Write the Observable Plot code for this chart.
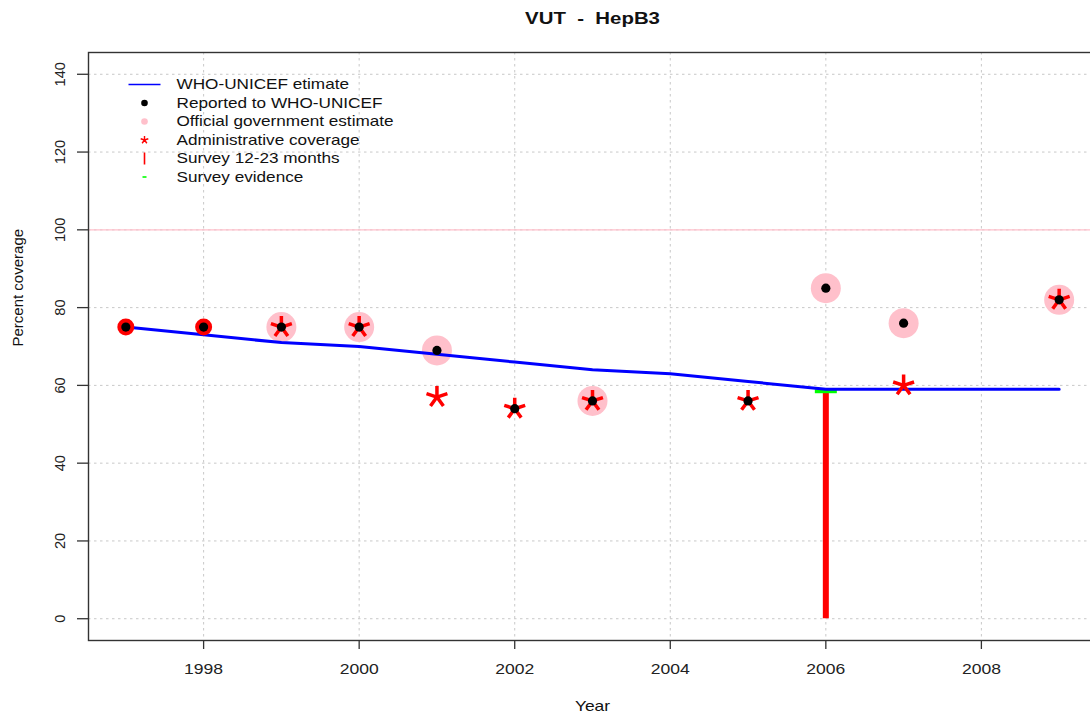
<!DOCTYPE html>
<html><head><meta charset="utf-8">
<script src="https://cdn.jsdelivr.net/npm/d3@7"></script>
<script src="https://cdn.jsdelivr.net/npm/@observablehq/plot@0.6"></script>
<style>
html,body{margin:0;padding:0;overflow:hidden;background:#fff;width:1090px;height:717px}
#chart svg{max-width:none !important}
svg text{white-space:pre}
</style>
</head><body><div id="chart"></div>
<script>
// ---- data ----
const title = "VUT  -  HepB3";
const years = [1997,1998,1999,2000,2001,2002,2003,2004,2005,2006,2007,2008,2009];
const whoUnicef = [75,73,71,70,68,66,64,63,61,59,59,59,59];
const reportedYears = [1997,1998,1999,2000,2001,2002,2003,2005,2006,2007,2009];
const reported = [75,75,75,75,69,54,56,56,85,76,82];
const officialYears = [1999,2000,2001,2003,2006,2007,2009];
const official = [75,75,69,56,85,76,82];
const adminYears = [1997,1998,1999,2000,2001,2002,2003,2005,2007,2009];
const admin = [75,75,75,75,57,54,56,56,60,82];
const adminFilledYears = [1997,1998];
const surveyYears = [2006];
const survey = [59];
const evidenceYears = [2006];
const evidence = [58.5];
const xTicks = [1998,2000,2002,2004,2006,2008];
const yTicks = [0,20,40,60,80,100,120,140];
const legendLabels = ["WHO-UNICEF etimate","Reported to WHO-UNICEF","Official government estimate","Administrative coverage","Survey 12-23 months","Survey evidence"];

// ---- tables ----
const zip = (xs, ys) => xs.map((x, i) => ({year: x, value: ys[i]}));
const whoData = zip(years, whoUnicef);
const repData = zip(reportedYears, reported);
const offData = zip(officialYears, official);
const admAll = zip(adminYears, admin);
const admFilled = admAll.filter(d => adminFilledYears.includes(d.year));
const admStar = admAll.filter(d => !adminFilledYears.includes(d.year));
const surData = zip(surveyYears, survey);
const eviData = zip(evidenceYears, evidence);

const ext = (lo, hi) => [lo - 0.04 * (hi - lo), hi + 0.04 * (hi - lo)];
const xDomain = ext(d3.min(years), d3.max(years));
const yDomain = ext(0, 140);

// ---- custom symbols ----
const star5 = {draw(ctx, size) {
  const r = Math.sqrt(size / Math.PI);
  for (let k = 0; k < 5; k++) {
    const a = k * 2 * Math.PI / 5;
    ctx.moveTo(0, 0);
    ctx.lineTo(r * Math.sin(a), -r * Math.cos(a));
  }
}};
const hline = (half) => ({draw(ctx) { ctx.moveTo(-half, 0); ctx.lineTo(half, 0); }});
const vline = (half) => ({draw(ctx) { ctx.moveTo(0, -half); ctx.lineTo(0, half); }});

const font = "'Liberation Sans', Arial, Helvetica, sans-serif";
const legendRow0 = 32, legendStep = 18.5, legendSym = 56, legendText = 88;
const legendSymbols = [
  {symbol: hline(16), stroke: "blue", strokeWidth: 1.6},
  {symbol: "circle", r: 3.3, fill: "black"},
  {symbol: "circle", r: 3.3, fill: "pink"},
  {symbol: star5, r: 4, stroke: "red", strokeWidth: 1.4},
  {symbol: vline(6), stroke: "red", strokeWidth: 1.6},
  {symbol: hline(2), stroke: "#00ff00", strokeWidth: 1.6}
];
const legendMarks = legendLabels.flatMap((lab, i) => [
  Plot.dot([lab], {frameAnchor: "top-left", dx: legendSym, dy: legendRow0 + i * legendStep, ...legendSymbols[i]}),
  Plot.text([lab], {text: d => d, frameAnchor: "top-left", dx: legendText, dy: legendRow0 + i * legendStep,
    textAnchor: "start", lineAnchor: "middle", fontSize: 14.3, fill: "#111"})
]);

const chart = Plot.plot({
  width: 1100, height: 717,
  marginLeft: 88, marginTop: 52, marginBottom: 77, marginRight: 4,
  x: {domain: xDomain},
  y: {domain: yDomain},
  style: {fontFamily: font, fontSize: "15px", color: "#222", background: "white"},
  marks: [
    Plot.gridX(xTicks, {stroke: "#c8c8c8", strokeOpacity: 1, strokeDasharray: "2.5,3.5", strokeWidth: 1}),
    Plot.gridY(yTicks, {stroke: "#c8c8c8", strokeOpacity: 1, strokeDasharray: "2.5,3.5", strokeWidth: 1}),
    Plot.ruleY([100], {stroke: "pink", strokeWidth: 1.2}),
    Plot.frame({stroke: "#333", strokeWidth: 1.4}),
    Plot.axisX({ticks: xTicks, tickSize: 9, tickPadding: 14, tickFormat: d => String(d), label: null, fontSize: 14.6, stroke: "#333", strokeWidth: 1.3}),
    Plot.axisY({ticks: yTicks, tickSize: 11, tickFormat: () => "", label: null, stroke: "#333", strokeWidth: 1.3}),
    Plot.text(yTicks, {y: d => d, text: d => String(d), frameAnchor: "left", dx: -28, rotate: -90,
      textAnchor: "middle", lineAnchor: "middle", fontSize: 14.6, fill: "#222"}),
    Plot.text(["Year"], {frameAnchor: "bottom", dy: 70, fontSize: 14.5, fill: "#111"}),
    Plot.text(["Percent coverage"], {frameAnchor: "left", dx: -70, rotate: -90, fontSize: 15, fill: "#111"}),
    Plot.text([title], {frameAnchor: "top", dy: -41, fontWeight: "bold", fontSize: 17, fill: "#111"}),
    Plot.ruleX(surData, {x: "year", y1: 0, y2: "value", stroke: "red", strokeWidth: 6}),
    Plot.dot(eviData, {x: "year", y: "value", symbol: hline(11), stroke: "#00ff00", strokeWidth: 4}),
    Plot.dot(offData, {x: "year", y: "value", r: 15, fill: "pink"}),
    Plot.line(whoData, {x: "year", y: "value", stroke: "blue", strokeWidth: 3}),
    Plot.dot(admFilled, {x: "year", y: "value", r: 8.5, fill: "red"}),
    Plot.dot(admStar, {x: "year", y: "value", r: 11, symbol: star5, stroke: "red", strokeWidth: 3.5, fill: "none"}),
    Plot.dot(repData, {x: "year", y: "value", r: 4.6, fill: "black"}),
    ...legendMarks
  ]
});
document.getElementById("chart").appendChild(chart);

// the reference image is horizontally stretched (~1.2x): widen horizontal text to match
const stretch = 1.2;
chart.querySelectorAll("text").forEach(t => {
  const tr = (t.getAttribute("transform") || "") + (t.parentNode.getAttribute && t.parentNode.getAttribute("transform") || "");
  if (/rotate/.test(tr)) return;
  const len = t.getComputedTextLength();
  if (len > 0) {
    t.setAttribute("textLength", (len * stretch).toFixed(1));
    t.setAttribute("lengthAdjust", "spacingAndGlyphs");
  }
});
</script>
</body></html>
